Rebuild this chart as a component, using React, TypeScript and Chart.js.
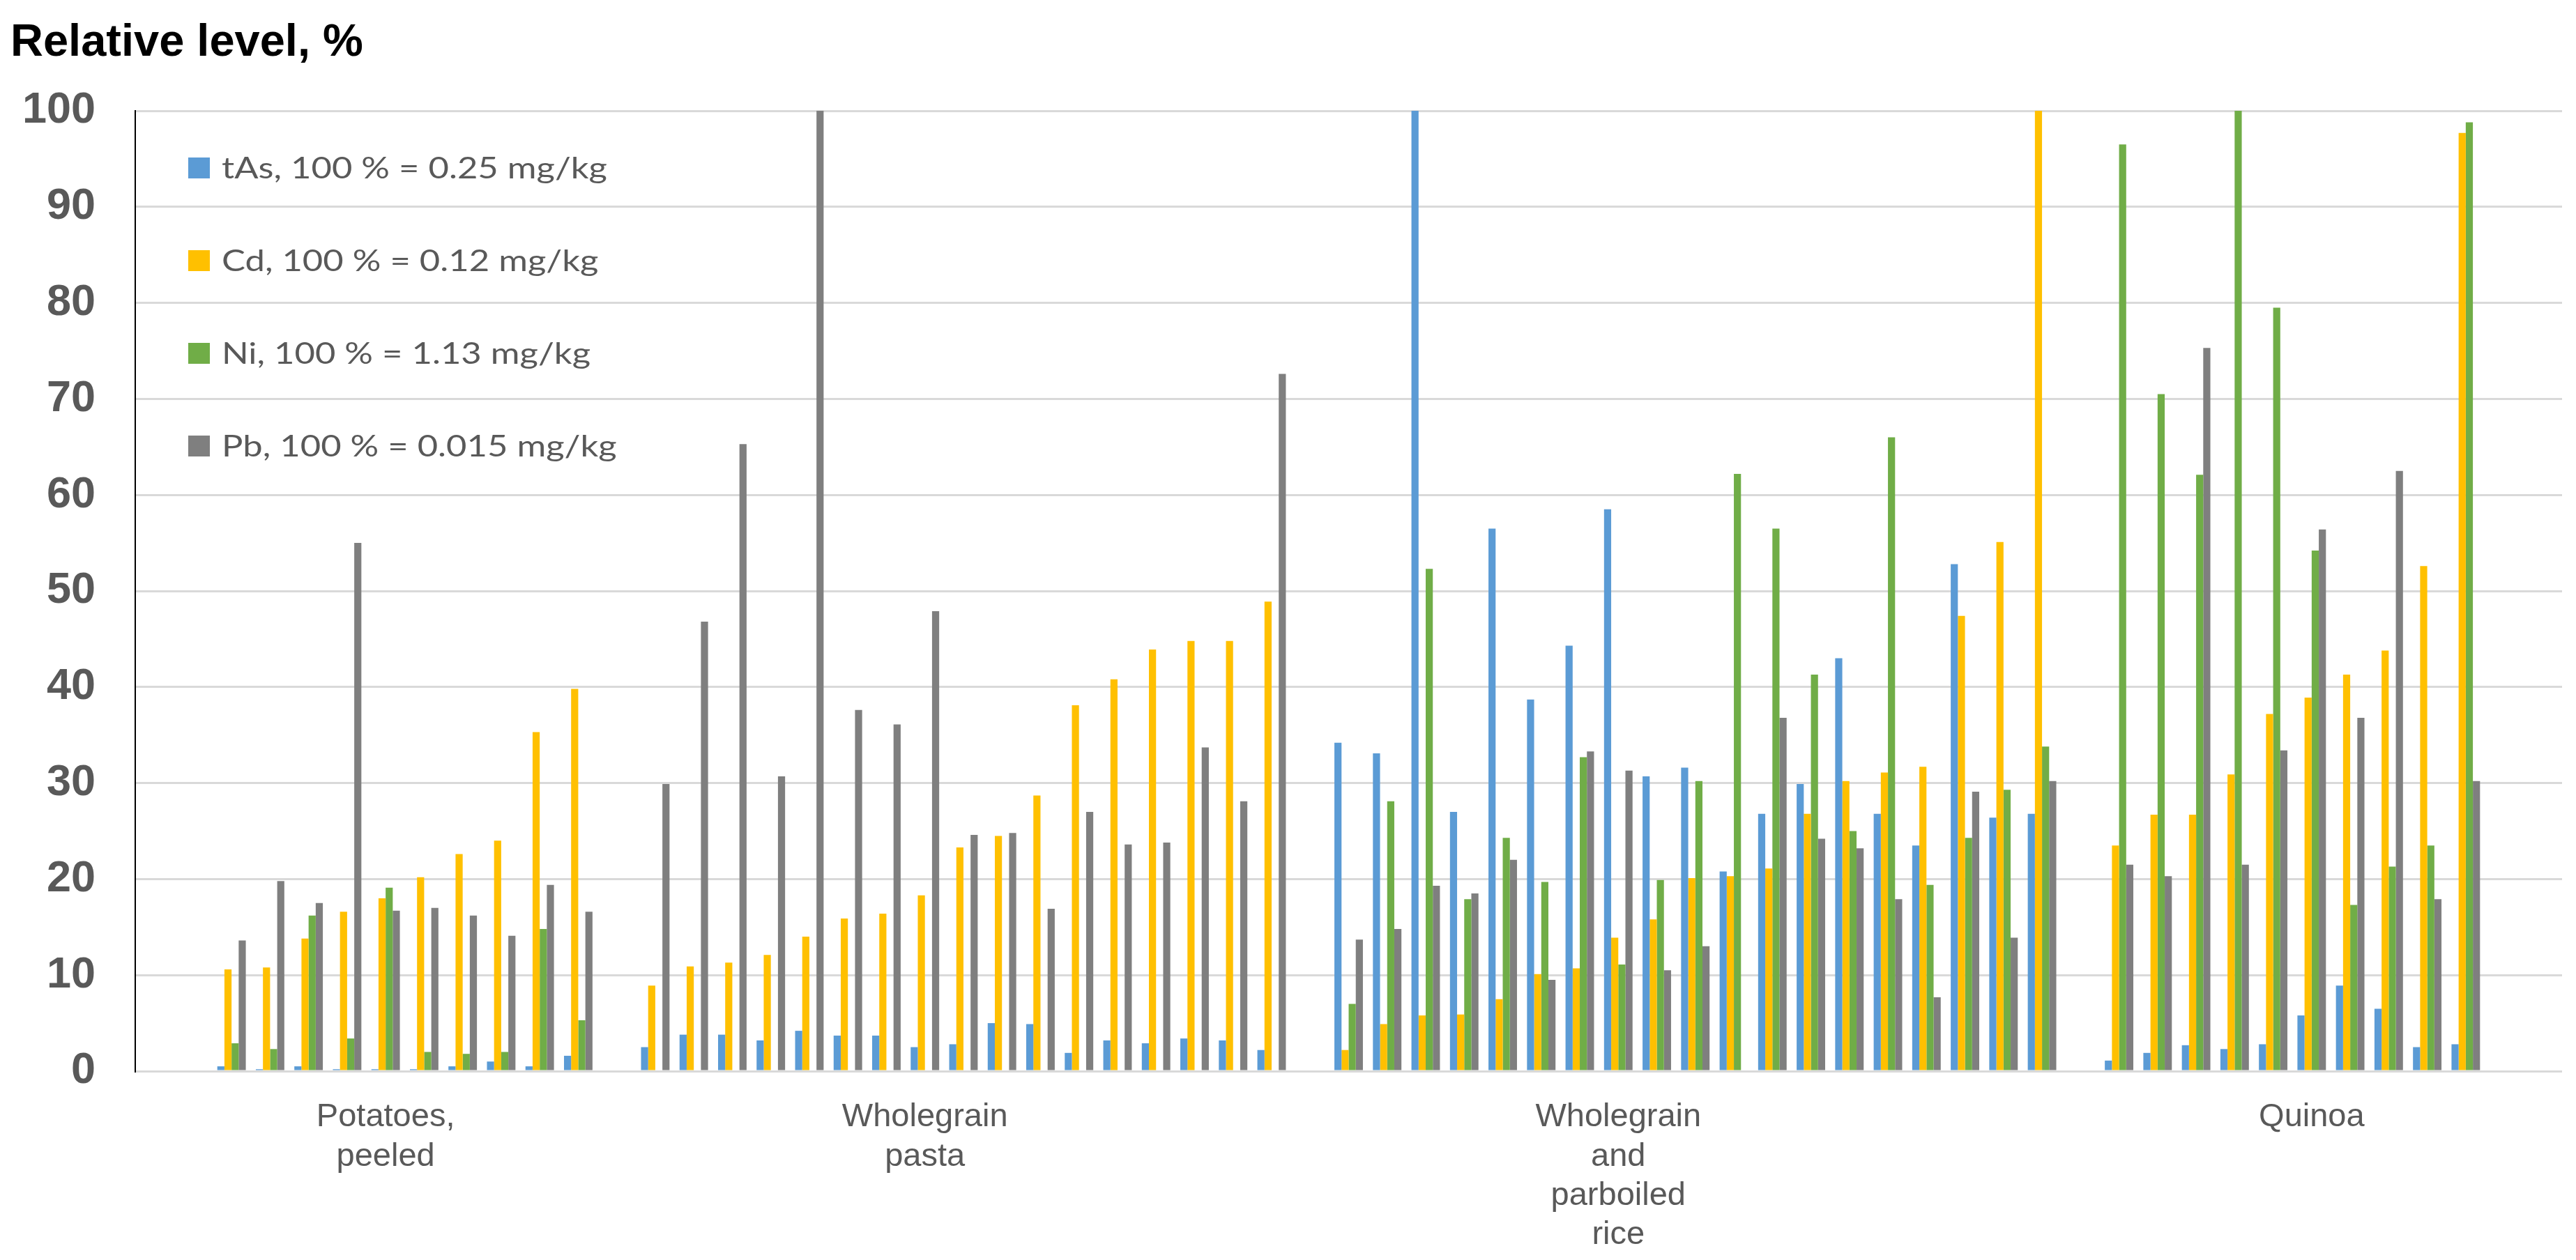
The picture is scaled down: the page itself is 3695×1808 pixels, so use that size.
import React, { useEffect, useRef } from "react";
import { Chart, registerables } from "chart.js";

Chart.register(...registerables);

const seriesLabels = [
  "tAs, 100 % = 0.25 mg/kg",
  "Cd, 100 % = 0.12 mg/kg",
  "Ni, 100 % = 1.13 mg/kg",
  "Pb, 100 % = 0.015 mg/kg",
];
const seriesColors = ["#5B9BD5", "#FFC000", "#70AD47", "#7F7F7F"];

const groupLabels = [
  ["Potatoes,", "peeled"],
  ["Wholegrain", "pasta"],
  ["Wholegrain", "and", "parboiled", "rice"],
  ["Quinoa"],
];
const groupLabelSample = [4, 7, 7, 5];

// Potatoes, peeled
const tAsPotatoes = [0.5, 0.2, 0.5, 0.2, 0.2, 0.2, 0.5, 1.0, 0.5, 1.6];
const cdPotatoes = [10.6, 10.8, 13.8, 16.6, 18.0, 20.2, 22.6, 24.0, 35.3, 39.8];
const niPotatoes = [2.9, 2.3, 16.2, 3.4, 19.1, 2.0, 1.8, 2.0, 14.8, 5.3];
const pbPotatoes = [13.6, 19.8, 17.5, 55.0, 16.7, 17.0, 16.2, 14.1, 19.4, 16.6];

// Wholegrain pasta
const tAsPasta = [2.5, 3.8, 3.8, 3.2, 4.2, 3.7, 3.7, 2.5, 2.8, 5.0, 4.9, 1.9, 3.2, 2.9, 3.4, 3.2, 2.2];
const cdPasta = [8.9, 10.9, 11.3, 12.1, 14.0, 15.9, 16.4, 18.3, 23.3, 24.5, 28.7, 38.1, 40.8, 43.9, 44.8, 44.8, 48.9];
const niPasta = [null, null, null, null, null, null, null, null, null, null, null, null, null, null, null, null, null];
const pbPasta = [29.9, 46.8, 65.3, 30.7, 100, 37.6, 36.1, 47.9, 24.6, 24.8, 16.9, 27.0, 23.6, 23.8, 33.7, 28.1, 72.6];

// Wholegrain and parboiled rice
const tAsRice = [34.2, 33.1, 100, 27.0, 56.5, 38.7, 44.3, 58.5, 30.7, 31.6, 20.8, 26.8, 29.9, 43.0, 26.8, 23.5, 52.8, 26.4, 26.8];
const cdRice = [2.2, 4.9, 5.8, 5.9, 7.5, 10.1, 10.7, 13.9, 15.8, 20.1, 20.3, 21.1, 26.8, 30.2, 31.1, 31.7, 47.4, 55.1, 100];
const niRice = [7.0, 28.1, 52.3, 17.9, 24.3, 19.7, 32.7, 11.1, 19.9, 30.2, 62.2, 56.5, 41.3, 25.0, 66.0, 19.4, 24.3, 29.3, 33.8];
const pbRice = [13.7, 14.8, 19.3, 18.5, 22.0, 9.5, 33.3, 31.3, 10.5, 13.0, null, 36.8, 24.2, 23.2, 17.9, 7.7, 29.1, 13.9, 30.2];

// Quinoa
const tAsQuinoa = [1.1, 1.9, 2.7, 2.3, 2.8, 5.8, 8.9, 6.5, 2.5, 2.8];
const cdQuinoa = [23.5, 26.7, 26.7, 30.9, 37.2, 38.9, 41.3, 43.8, 52.6, 97.7];
const niQuinoa = [96.5, 70.5, 62.1, 100, 79.5, 54.2, 17.3, 21.3, 23.5, 98.8];
const pbQuinoa = [21.5, 20.3, 75.3, 21.5, 33.4, 56.4, 36.8, 62.5, 17.9, 30.2];

const yTicks = { min: 0, max: 100, step: 10 };

const LEAD = 2;
const TRAIL = 2;

function buildSeries(groups: (number | null)[][]): (number | null)[] {
  const out: (number | null)[] = [];
  for (let i = 0; i < LEAD; i++) out.push(null);
  groups.forEach((g, gi) => {
    if (gi > 0) out.push(null);
    out.push(...g);
  });
  for (let i = 0; i < TRAIL; i++) out.push(null);
  return out;
}

function buildLabels(sizes: number[]): (string | string[])[] {
  const out: (string | string[])[] = [];
  for (let i = 0; i < LEAD; i++) out.push("");
  sizes.forEach((n, gi) => {
    if (gi > 0) out.push("");
    for (let k = 0; k < n; k++) out.push(k === groupLabelSample[gi] ? groupLabels[gi] : "");
  });
  for (let i = 0; i < TRAIL; i++) out.push("");
  return out;
}

const seriesData = [
  buildSeries([tAsPotatoes, tAsPasta, tAsRice, tAsQuinoa]),
  buildSeries([cdPotatoes, cdPasta, cdRice, cdQuinoa]),
  buildSeries([niPotatoes, niPasta, niRice, niQuinoa]),
  buildSeries([pbPotatoes, pbPasta, pbRice, pbQuinoa]),
];
const labels = buildLabels([tAsPotatoes.length, tAsPasta.length, tAsRice.length, tAsQuinoa.length]);

const ARIAL = "'Liberation Sans', Arial, Helvetica, sans-serif";

const insideLegend = {
  id: "insideLegend",
  afterDraw(chart: any) {
    const ctx = chart.ctx as CanvasRenderingContext2D;
    const area = chart.chartArea;
    ctx.save();
    ctx.font = "42px Lato";
    const natural = ctx.measureText(chart.data.datasets[0].label).width;
    const sx = 553 / natural;
    chart.data.datasets.forEach((ds: any, i: number) => {
      const cy = area.top + 82 + i * 133;
      ctx.fillStyle = ds.backgroundColor;
      ctx.fillRect(area.left + 76, cy - 15, 31, 30);
      ctx.save();
      ctx.translate(area.left + 124, cy + 15);
      ctx.scale(sx, 1);
      ctx.fillStyle = "#595959";
      ctx.textBaseline = "alphabetic";
      ctx.textAlign = "left";
      ctx.font = "42px Lato";
      ctx.fillText(ds.label, 0, 0);
      ctx.restore();
    });
    ctx.restore();
  },
};

export default function App() {
  const ref = useRef<HTMLCanvasElement | null>(null);

  useEffect(() => {
    document.body.style.margin = "0";
    if (!ref.current) return;
    const chart = new Chart(ref.current, {
      type: "bar",
      data: {
        labels,
        datasets: seriesLabels.map((label, i) => ({
          label,
          data: seriesData[i],
          backgroundColor: seriesColors[i],
          borderWidth: 0,
          categoryPercentage: 0.74,
          barPercentage: 1.0,
        })),
      },
      options: {
        responsive: false,
        animation: false,
        devicePixelRatio: 1,
        layout: { padding: { left: 15, right: 20, top: 0, bottom: 0 } },
        plugins: {
          legend: { display: false },
          tooltip: { enabled: false },
          title: {
            display: true,
            text: "Relative level, %",
            align: "start",
            color: "#000000",
            font: { family: ARIAL, size: 65, weight: "bold", lineHeight: 1.2 },
            padding: { top: 23, bottom: 58 },
          },
        },
        scales: {
          x: {
            grid: { display: false },
            border: { display: false },
            ticks: {
              autoSkip: false,
              maxRotation: 0,
              minRotation: 0,
              padding: 30,
              color: "#595959",
              font: { family: ARIAL, size: 47, lineHeight: 1.2 },
            },
            afterFit: (s: any) => {
              s.height = 271;
            },
          },
          y: {
            min: yTicks.min,
            max: yTicks.max,
            ticks: {
              stepSize: yTicks.step,
              padding: 57,
              color: "#595959",
              font: { family: ARIAL, size: 63, weight: "bold" },
            },
            grid: { color: "#d9d9d9", lineWidth: 3, drawTicks: false },
            border: { display: true, color: "#000000", width: 2 },
            afterFit: (s: any) => {
              s.width = 179;
            },
          },
        },
      } as any,
      plugins: [insideLegend],
    });
    return () => chart.destroy();
  }, []);

  return (
    <div style={{ position: "absolute", left: 0, top: 0, width: 3695, height: 1808, background: "#fff" }}>
      <canvas ref={ref} width={3695} height={1808} style={{ display: "block" }} />
    </div>
  );
}
